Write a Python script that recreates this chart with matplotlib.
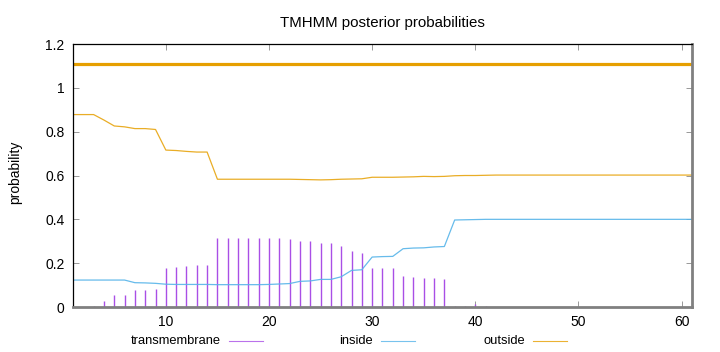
import numpy as np
import matplotlib
matplotlib.use("Agg")
import matplotlib.pyplot as plt
from matplotlib.lines import Line2D

plt.rcParams['font.family'] = ['Liberation Sans', 'DejaVu Sans']

# residue positions
pos = list(range(1, 62))

# transmembrane posterior (impulses)
tm = [0.0, 0.0, 0.003, 0.029, 0.055, 0.055, 0.076, 0.076, 0.082, 0.180,
      0.183, 0.187, 0.190, 0.190, 0.315, 0.315, 0.315, 0.316, 0.315, 0.314,
      0.314, 0.310, 0.301, 0.301, 0.294, 0.294, 0.279, 0.254, 0.247, 0.180,
      0.180, 0.178, 0.141, 0.137, 0.134, 0.131, 0.128, 0.004, 0.004, 0.012,
      0.003] + [0.0] * 20

# inside posterior
inside = [0.123, 0.123, 0.123, 0.123, 0.123, 0.123, 0.111, 0.110, 0.108, 0.104,
          0.103, 0.103, 0.103, 0.103, 0.102, 0.102, 0.102, 0.102, 0.102, 0.103,
          0.105, 0.107, 0.117, 0.119, 0.126, 0.126, 0.138, 0.167, 0.170, 0.228,
          0.230, 0.231, 0.266, 0.269, 0.270, 0.274, 0.276, 0.397, 0.398, 0.399,
          0.400] + [0.400] * 20

# outside posterior
outside = [0.878, 0.878, 0.878, 0.853, 0.826, 0.822, 0.814, 0.814, 0.810, 0.716,
           0.714, 0.710, 0.707, 0.707, 0.583, 0.583, 0.583, 0.583, 0.583, 0.583,
           0.583, 0.583, 0.582, 0.581, 0.580, 0.581, 0.583, 0.584, 0.585, 0.592,
           0.592, 0.592, 0.593, 0.594, 0.596, 0.595, 0.596, 0.599, 0.600, 0.600,
           0.601] + [0.602] * 20

# predicted topology: whole sequence outside
topo_start = 1
topo_end = 61
topo_level = 1.11

PURPLE = '#a94fe6'
BLUE = '#56b4e9'
ORANGE = '#e69f00'

fig = plt.figure(figsize=(7.2, 3.52), dpi=100)
ax = fig.add_axes([0.1014, 0.1278, 0.8596, 0.7472])

ax.vlines(pos, 0, tm, color=PURPLE, lw=1.0)
ax.plot(pos, inside, color=BLUE, lw=0.9, alpha=0.9)
ax.plot(pos, outside, color=ORANGE, lw=0.9, alpha=0.85)
ax.plot([topo_start, topo_end], [topo_level, topo_level], color=ORANGE, lw=2.3,
        solid_capstyle='butt')

ax.set_xlim(1, 61)
ax.set_ylim(0, 1.2)
ax.set_xticks([10, 20, 30, 40, 50, 60])
ax.set_yticks([0, 0.2, 0.4, 0.6, 0.8, 1.0, 1.2])
ax.set_yticklabels(['0', '0.2', '0.4', '0.6', '0.8', '1', '1.2'])
ax.tick_params(direction='in', length=4, width=0.6, color='#888888',
               top=True, right=True, labelsize=10, pad=6)

for s in ['left', 'top']:
    ax.spines[s].set_color('black')
    ax.spines[s].set_linewidth(0.9)
for s in ['bottom', 'right']:
    ax.spines[s].set_color('#808080')
    ax.spines[s].set_linewidth(2.0)

ax.set_title('TMHMM posterior probabilities', fontsize=10.8, pad=12)
fig.text(0.021, 0.51, 'probability', rotation=90, ha='center', va='center', fontsize=10)

# legend below, gnuplot style (text right-aligned, then line sample)
labels = ['transmembrane', 'inside', 'outside']
colors = [PURPLE, BLUE, ORANGE]
text_right = [221, 373, 525]
line_x = [(229, 263), (381, 415), (533, 567)]
ly = 1 - 341 / 352
for lab, c, tr, (x0, x1) in zip(labels, colors, text_right, line_x):
    fig.text(tr / 720, ly, lab, ha='right', va='center', fontsize=9.3)
    fig.add_artist(Line2D([x0 / 720, x1 / 720], [ly, ly], color=c, lw=0.8,
                          alpha=0.8, transform=fig.transFigure))

fig.savefig('out.png', dpi=100)
